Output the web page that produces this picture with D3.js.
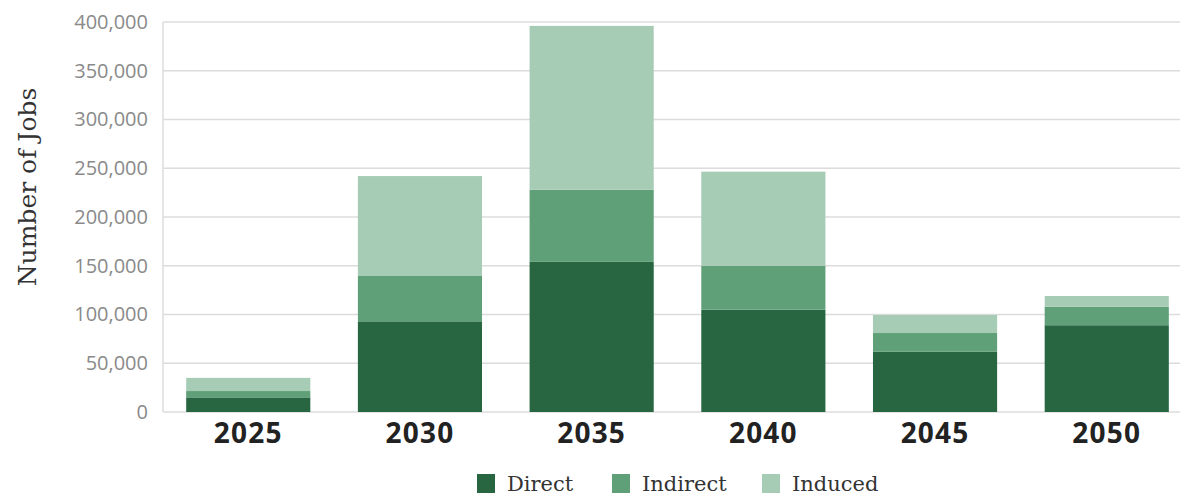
<!DOCTYPE html>
<html><head><meta charset="utf-8">
<script src="https://cdn.jsdelivr.net/npm/d3@7"></script>
<style>body{margin:0;background:#fff}svg{display:block}</style>
</head><body><svg id="c" width="1182" height="498"></svg>
<script>
const categories = ["2025","2030","2035","2040","2045","2050"];
const direct   = [15000, 93000, 154000, 105000, 62000, 89000];
const indirect = [6500, 46500, 74000, 45000, 19000, 19000];
const induced  = [13500, 102500, 168000, 96500, 18500, 11000];
const seriesNames = ["Direct","Indirect","Induced"];
const colors = ["#286642","#5fa078","#a7ccb6"];
const yTicks = [0,50000,100000,150000,200000,250000,300000,350000,400000];

const rows = categories.map((c,i)=>({cat:c, Direct:direct[i], Indirect:indirect[i], Induced:induced[i]}));
const svg = d3.select("#c");
const x0 = 163, xEnd = 1192, gridEnd = 1180;
const x = d3.scaleBand().domain(categories).range([x0, xEnd]).paddingInner(0.277).paddingOuter(0.135);
const y = d3.scaleLinear().domain([0,400000]).range([412,22]);

// gridlines
svg.append("g").selectAll("line").data(yTicks).join("line")
  .attr("x1", x0).attr("x2", gridEnd)
  .attr("y1", d=>y(d)).attr("y2", d=>y(d))
  .attr("stroke", "#dcdcdc").attr("stroke-width", 1.5);
svg.append("line").attr("x1",x0).attr("x2",x0).attr("y1",y(400000)).attr("y2",y(0))
  .attr("stroke","#dcdcdc").attr("stroke-width",1.5);

// y axis labels
const yAxis = d3.axisLeft(y).tickValues(yTicks).tickFormat(d3.format(",")).tickSize(0).tickPadding(15);
const ya = svg.append("g").attr("transform",`translate(${x0},0)`).call(yAxis);
ya.select(".domain").remove();
ya.selectAll("text").attr("font-family","'Open Sans', sans-serif").attr("font-size",20)
  .attr("fill","#8a8a8a").attr("font-weight",400);

// stacked bars
const stack = d3.stack().keys(seriesNames)(rows);
svg.append("g").selectAll("g").data(stack).join("g")
  .attr("fill",(d,i)=>colors[i])
  .selectAll("rect").data(d=>d).join("rect")
  .attr("x", d=>x(d.data.cat)).attr("width", x.bandwidth())
  .attr("y", d=>y(d[1])).attr("height", d=>y(d[0])-y(d[1]));

// x axis labels
const xAxis = d3.axisBottom(x).tickSize(0).tickPadding(11);
const xa = svg.append("g").attr("transform",`translate(0,${y(0)})`).call(xAxis);
xa.select(".domain").remove();
xa.selectAll("text").attr("font-family","'Open Sans', sans-serif").attr("font-size",28)
  .attr("font-weight",700).attr("fill","#222").attr("letter-spacing","1.2px");

// y title
svg.append("text").attr("transform","translate(36,187) rotate(-90)")
  .attr("text-anchor","middle").attr("font-family","'DejaVu Serif', serif")
  .attr("font-size",25).attr("fill","#333").text("Number of Jobs");

// legend
const legX = [477, 612, 762];
const leg = svg.append("g").selectAll("g").data(seriesNames).join("g")
  .attr("transform",(d,i)=>`translate(${legX[i]},474)`);
leg.append("rect").attr("width",18).attr("height",19).attr("fill",(d,i)=>colors[i]);
leg.append("text").attr("x",30).attr("y",17).attr("font-family","'DejaVu Serif', serif")
  .attr("font-size",21).attr("fill","#333").text(d=>d);
</script></body></html>
